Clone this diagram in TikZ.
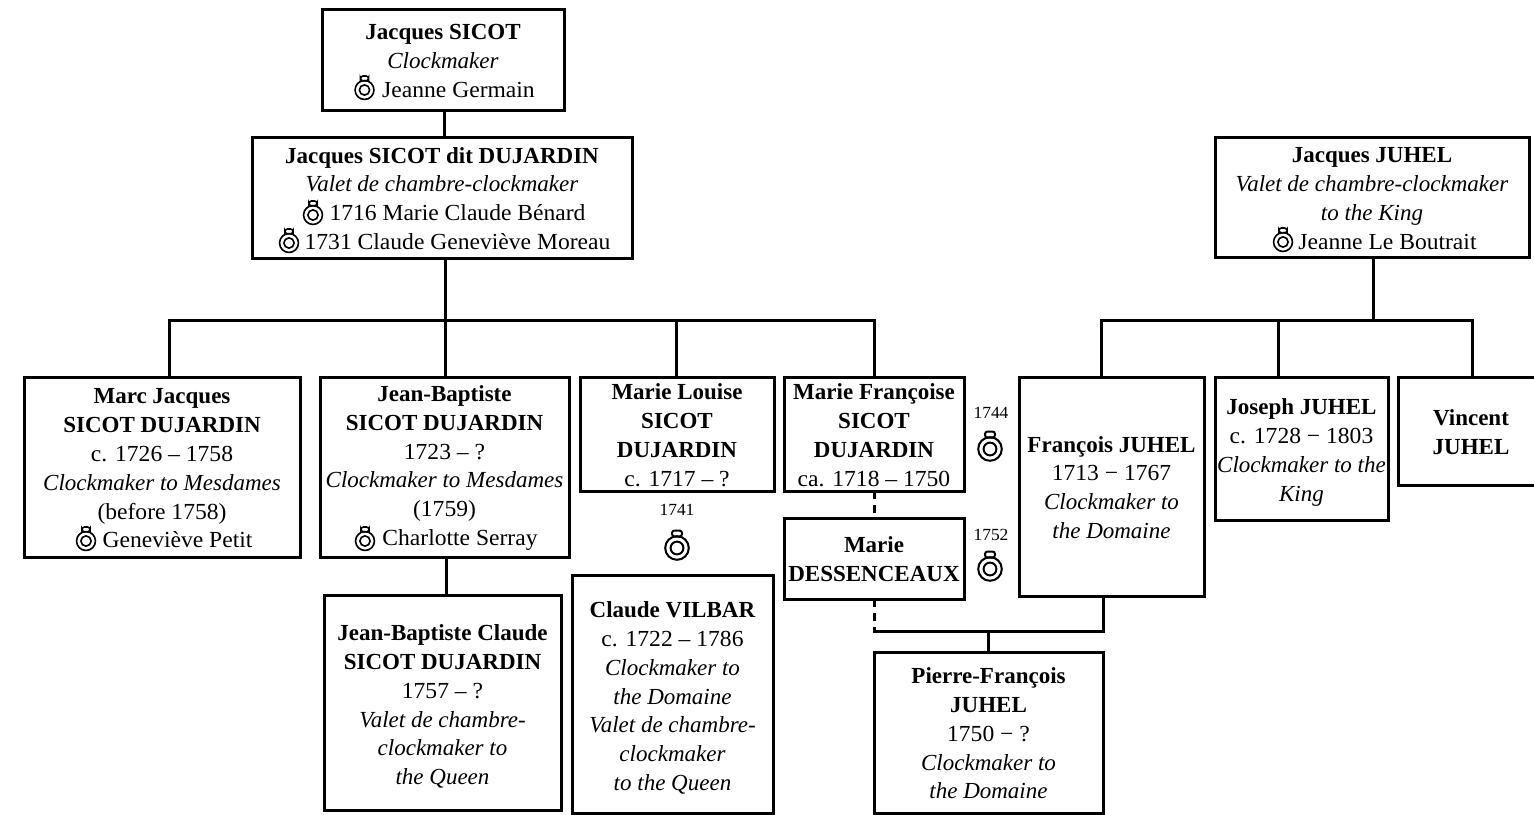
\documentclass[tikz,border=0pt]{standalone}
\usepackage{fontspec}
\setmainfont{Liberation Serif}[UprightFeatures={FakeStretch=1.025}]
\tikzset{
  box/.style n args={4}{draw=black,line width=3pt,fill=white,inner sep=0pt,outer sep=0pt,align=center,
    font=\fontsize{23}{28.8}\selectfont,
    at={({(#1+#3)/2},{(#2+#4)/2})},minimum width={#3-#1},minimum height={#4-#2}},
  link/.style={line width=3pt,line cap=rect},
  dashlink/.style={line width=3pt,dash pattern=on 8pt off 6pt},
  yr/.style={font=\fontsize{17}{20}\selectfont,inner sep=0pt},
  bigring/.style={line width=2pt},
  smallring/.style={scale=.8,line width=1.6pt},
  ring/.pic={
    \draw (0,0) circle[radius=11.8];
    \draw (0,0) circle[radius=6.4];
    \draw[rounded corners=2.5pt] (-5,-11.5) rectangle (5,-17.5);
  },
}
\newcommand{\rs}{\hspace*{31pt}}
\newcommand{\ta}{\rule{0pt}{18pt}}
\newcommand{\tb}{\rule{0pt}{24pt}}
\begin{document}
\begin{tikzpicture}[x=1pt,y=-1pt]
\useasboundingbox (0,0) rectangle (1534,814);
% boxes
\node[box={322}{9}{564}{110}] (A) {\ta\textbf{Jacques SICOT}\\\textit{Clockmaker}\\\rs Jeanne Germain};
\node[box={252}{137}{632}{258}] (B) {\ta\textbf{Jacques SICOT dit DUJARDIN}\\\textit{Valet de chambre-clockmaker}\\\rs 1716 Marie Claude Bénard\\\rs 1731 Claude Geneviève Moreau};
\node[box={24}{377}{300}{557}] (C) {\ta\textbf{Marc Jacques}\\\textbf{SICOT DUJARDIN}\\c. 1726 – 1758\\\textit{Clockmaker to Mesdames}\\(before 1758)\\\rs Geneviève Petit};
\node[box={320}{377}{569}{557}] (D) {\ta\textbf{Jean-Baptiste}\\\textbf{SICOT DUJARDIN}\\1723 – ?\\\textit{Clockmaker to Mesdames}\\(1759)\\\rs Charlotte Serray};
\node[box={580}{377}{774}{491}] (E) {\ta\textbf{Marie Louise}\\\textbf{SICOT}\\\textbf{DUJARDIN}\\c. 1717 – ?};
\node[box={784}{377}{964}{491}] (F) {\ta\textbf{Marie Françoise}\\\textbf{SICOT}\\\textbf{DUJARDIN}\\ca. 1718 – 1750};
\node[box={1019}{377}{1204}{596}] (G) {\ta\textbf{François JUHEL}\\1713 − 1767\\\textit{Clockmaker to}\\\textit{the Domaine}};
\node[box={1215}{377}{1388}{520}] (H) {\tb\textbf{Joseph JUHEL}\\c. 1728 − 1803\\\textit{Clockmaker to the}\\\textit{King}};
\node[box={1398}{377}{1544}{485}] (I) {\ta\textbf{Vincent}\\\textbf{JUHEL}};
\node[box={1215}{137}{1529}{257}] (J) {\ta\textbf{Jacques JUHEL}\\\textit{Valet de chambre-clockmaker}\\\textit{to the King}\\\rs Jeanne Le Boutrait};
\node[box={324}{595}{561}{810}] (K) {\tb\textbf{Jean-Baptiste Claude}\\\textbf{SICOT DUJARDIN}\\1757 – ?\\\textit{Valet de chambre-}\\\textit{clockmaker to}\\\textit{the Queen}};
\node[box={572}{575}{773}{813}] (L) {\tb\textbf{Claude VILBAR}\\c. 1722 – 1786\\\textit{Clockmaker to}\\\textit{the Domaine}\\\textit{Valet de chambre-}\\\textit{clockmaker}\\\textit{to the Queen}};
\node[box={784}{518}{964}{599}] (M) {\ta\textbf{Marie}\\\textbf{DESSENCEAUX}};
\node[box={874}{652}{1103}{813}] (N) {\ta\textbf{Pierre-François}\\\textbf{JUHEL}\\1750 − ?\\\textit{Clockmaker to}\\\textit{the Domaine}};
% junction points
\coordinate (b1) at (445,320);
\coordinate (bC) at (169,320);
\coordinate (bE) at (676,320);
\coordinate (bF) at (874,320);
\coordinate (j1) at (1373,320);
\coordinate (jG) at (1101,320);
\coordinate (jH) at (1278,320);
\coordinate (jI) at (1472,320);
\coordinate (ab) at (444,123);
\coordinate (dk) at (446,576);
\coordinate (u1) at (874,631);
\coordinate (u2) at (1103,631);
\coordinate (u3) at (988,631);
% connectors
\draw[link] (ab |- A.south) -- (ab |- B.north);
\draw[link] (b1 |- B.south) -- (b1);
\draw[link] (bC |- C.north) -- (bC) -- (bF) -- (bF |- F.north);
\draw[link] (b1) -- (b1 |- D.north);
\draw[link] (bE) -- (bE |- E.north);
\draw[link] (j1 |- J.south) -- (j1);
\draw[link] (jG |- G.north) -- (jG) -- (jI) -- (jI |- I.north);
\draw[link] (jH) -- (jH |- H.north);
\draw[link] (dk |- D.south) -- (dk |- K.north);
\draw[dashlink] (bF |- F.south) -- (bF |- M.north);
\draw[dashlink] (u1 |- M.south) -- (u1);
\draw[link] (u1) -- (u2) -- (u2 |- G.south);
\draw[link] (u3) -- (u3 |- N.north);
% years
\node[yr] (y1) at (677,510) {1741};
\node[yr] (y2) at (991,413) {1744};
\node[yr] (y3) at (991,535) {1752};
% rings
\pic[bigring] at (677,548) {ring};
\pic[bigring] at (990,449) {ring};
\pic[bigring] at (990,569) {ring};
\pic[smallring] at (364.5,90) {ring};
\pic[smallring] at (313,215) {ring};
\pic[smallring] at (289,243) {ring};
\pic[smallring] at (86,541) {ring};
\pic[smallring] at (365,541) {ring};
\pic[smallring] at (1283,242) {ring};
\end{tikzpicture}
\end{document}
